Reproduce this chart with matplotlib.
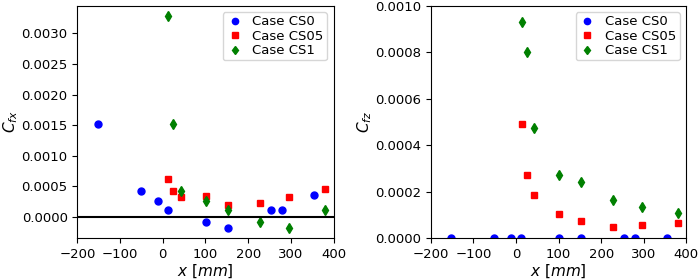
import matplotlib
matplotlib.use("Agg")
import matplotlib.pyplot as plt

# positions along x [mm]
x_cs0 = [-152, -51, -12, 12, 102, 153, 254, 279, 355]
x_cs05 = [13, 25, 43, 102, 153, 228, 296, 380]
x_cs1 = [13, 25, 43, 102, 153, 228, 296, 380]

# force coefficient C_fx
cfx_cs0 = [0.00152, 0.00043, 0.00026, 0.000114, -0.00008, -0.000174, 0.000114, 0.000114, 0.000353]
cfx_cs05 = [0.000625, 0.000424, 0.00032, 0.000342, 0.0002, 0.000228, 0.000326, 0.000462]
cfx_cs1 = [0.00328, 0.00152, 0.00043, 0.00026, 0.000114, -0.00008, -0.000174, 0.000114]

# force coefficient C_fz
cfz_cs0 = [0, 0, 0, 0, 0, 0, 0, 0, 0]
cfz_cs05 = [0.000492, 0.000272, 0.000185, 0.000103, 0.000073, 0.000049, 0.000057, 0.000067]
cfz_cs1 = [0.000931, 0.000802, 0.000476, 0.00027, 0.000244, 0.000163, 0.000133, 0.00011]

labels = ["Case CS0", "Case CS05", "Case CS1"]

fig = plt.figure(figsize=(7, 2.8), dpi=100)
ax1 = fig.add_axes([0.1105, 0.149, 0.366, 0.831])
ax2 = fig.add_axes([0.6155, 0.149, 0.365, 0.831])

ax1.plot(x_cs0, cfx_cs0, "bo", ms=5, label=labels[0])
ax1.plot(x_cs05, cfx_cs05, "rs", ms=5, label=labels[1])
ax1.plot(x_cs1, cfx_cs1, "gd", ms=5, label=labels[2])
ax1.axhline(0, color="k", lw=1.5)
ax1.set_xlim(-200, 400)
ax1.set_ylabel("$C_{fx}$", fontsize=11, labelpad=1)
ax1.set_xlabel("$x$ $[mm]$", fontsize=11, labelpad=1)

ax2.plot(x_cs0, cfz_cs0, "bo", ms=5, label=labels[0])
ax2.plot(x_cs05, cfz_cs05, "rs", ms=5, label=labels[1])
ax2.plot(x_cs1, cfz_cs1, "gd", ms=5, label=labels[2])
ax2.set_xlim(-200, 400)
ax2.set_ylim(0, 0.001)
ax2.set_ylabel("$C_{fz}$", fontsize=11, labelpad=1)
ax2.set_xlabel("$x$ $[mm]$", fontsize=11, labelpad=1)

for ax in (ax1, ax2):
    ax.tick_params(labelsize=9.5)
    ax.legend(loc="upper right", fontsize=9.5, numpoints=1, handlelength=1.3,
              handletextpad=0.7, borderpad=0.25, labelspacing=0.1, markerscale=0.9)
    ax.yaxis.set_major_formatter(matplotlib.ticker.FormatStrFormatter("%.4f"))

fig.savefig("out.png")
